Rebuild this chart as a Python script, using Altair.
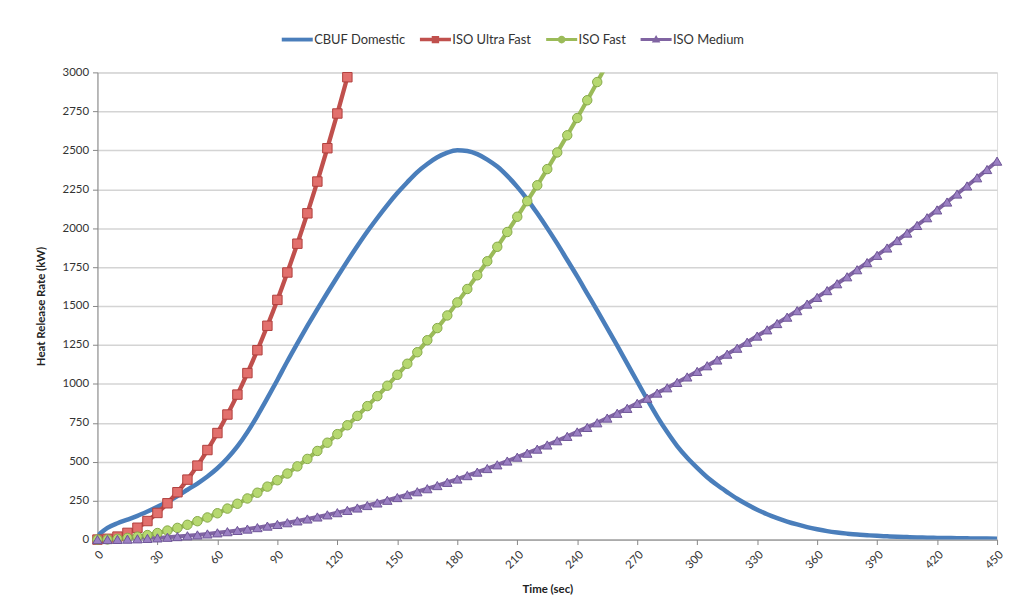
import altair as alt
import pandas as pd

series_names = ["CBUF Domestic", "ISO Ultra Fast", "ISO Fast", "ISO Medium"]
line_colors = ["#4A7EBB", "#C0504D", "#9BBB59", "#8064A2"]
marker_fills = ["#4A7EBB", "#E2706D", "#B6D870", "#9B80C3"]
marker_strokes = ["#4A7EBB", "#B0403D", "#86A84A", "#6E5596"]
line_widths = [4.5, 4, 3, 3]

time_sec = [0, 5, 10, 15, 20, 25, 30, 35, 40, 45, 50, 55, 60, 65, 70, 75, 80, 85, 90, 95,
            100, 105, 110, 115, 120, 125, 130, 135, 140, 145, 150, 155, 160, 165, 170, 175,
            180, 185, 190, 195, 200, 205, 210, 215, 220, 225, 230, 235, 240, 245, 250, 255,
            260, 265, 270, 275, 280, 285, 290, 295, 300, 305, 310, 315, 320, 325, 330, 335,
            340, 345, 350, 355, 360, 365, 370, 375, 380, 385, 390, 395, 400, 405, 410, 415,
            420, 425, 430, 435, 440, 445, 450]

cbuf_domestic = [25, 75, 105, 128, 152, 180, 210, 243, 280, 320, 360, 405, 458, 522, 598,
                 690, 795, 908, 1025, 1145, 1260, 1372, 1480, 1585, 1688, 1788, 1885, 1978,
                 2065, 2148, 2225, 2295, 2360, 2412, 2455, 2485, 2500, 2495, 2475, 2440, 2395,
                 2335, 2265, 2185, 2095, 2000, 1900, 1795, 1690, 1580, 1470, 1358, 1245, 1130,
                 1015, 900, 790, 690, 600, 525, 460, 400, 350, 305, 262, 225, 192, 163, 138,
                 116, 97, 80, 66, 54, 45, 38, 32, 28, 24, 21, 18, 16, 14, 12, 11, 10, 9, 8, 7,
                 7, 6]

iso_ultra_fast = [0, 5, 19, 43, 76, 119, 171, 233, 304, 385, 475, 575, 684, 803, 931, 1069,
                  1216, 1373, 1539, 1715, 1900, 2095, 2299, 2513, 2736, 2969, 3211]

iso_fast = [0, 1, 5, 11, 19, 29, 42, 58, 75, 95, 118, 142, 169, 199, 230, 264, 301, 340,
            381, 424, 470, 518, 569, 622, 677, 734, 794, 857, 921, 988, 1058, 1129, 1203,
            1280, 1358, 1439, 1523, 1609, 1697, 1787, 1880, 1975, 2073, 2173, 2275, 2379,
            2486, 2596, 2707, 2821, 2938, 3056]

iso_medium = [0, 0.3, 1.2, 2.7, 4.8, 7.5, 10.8, 14.7, 19.2, 24.3, 30, 36.3, 43.2, 50.7, 58.8,
              67.5, 76.8, 86.7, 97.2, 108.3, 120, 132.3, 145.2, 158.7, 172.8, 187.5, 202.8,
              218.7, 235.2, 252.3, 270, 288.3, 307.2, 326.7, 346.8, 367.5, 388.8, 410.7,
              433.2, 456.3, 480, 504.3, 529.2, 554.7, 580.8, 607.5, 634.8, 662.7, 691.2,
              720.3, 750, 780.3, 811.2, 842.7, 874.8, 907.5, 940.8, 974.7, 1009.2, 1044.3,
              1080, 1116.3, 1153.2, 1190.7, 1228.8, 1267.5, 1306.8, 1346.7, 1387.2, 1428.3,
              1470, 1512.3, 1555.2, 1598.7, 1642.8, 1687.5, 1732.8, 1778.7, 1825.2, 1872.3,
              1920, 1968.3, 2017.2, 2066.7, 2116.8, 2167.5, 2218.8, 2270.7, 2323.2, 2376.3,
              2430]

x_tick_labels = [0, 30, 60, 90, 120, 150, 180, 210, 240, 270, 300, 330, 360, 390, 420, 450]
y_tick_labels = [0, 250, 500, 750, 1000, 1250, 1500, 1750, 2000, 2250, 2500, 2750, 3000]

marker_shapes = ["circle", "square", "circle", "triangle-up"]
legend_shapes = [
    "M-2.6,-0.32 L2.6,-0.32 L2.6,0.32 L-2.6,0.32 Z",
    "M-2.6,-0.3 L2.6,-0.3 L2.6,0.3 L-2.6,0.3 Z M-0.62,-0.62 L0.62,-0.62 L0.62,0.62 L-0.62,0.62 Z",
    "M-2.6,-0.25 L2.6,-0.25 L2.6,0.25 L-2.6,0.25 Z M0.65,0 A0.65,0.65 0 1,1 -0.65,0 A0.65,0.65 0 1,1 0.65,0 Z",
    "M-2.6,-0.25 L2.6,-0.25 L2.6,0.25 L-2.6,0.25 Z M0,-0.75 L0.72,0.5 L-0.72,0.5 Z",
]

rows = []
for name, vals in zip(series_names, [cbuf_domestic, iso_ultra_fast, iso_fast, iso_medium]):
    for t, v in zip(time_sec, vals):
        rows.append({"series": name, "t": t, "hrr": v})
df = pd.DataFrame(rows)

FONT = "Lato"

x_enc = alt.X(
    "t:Q",
    scale=alt.Scale(domain=[0, 450], nice=False, zero=False),
    axis=alt.Axis(
        values=x_tick_labels, title="Time (sec)", labelAngle=-45, grid=False,
        domainColor="#868686", tickColor="#868686", tickSize=5, labelPadding=4,
        labelFontSize=11.5, labelColor="#333333", labelFont=FONT,
        titleFont=FONT, titleFontSize=11.5, titleFontWeight="bold", titleColor="#222222",
        titlePadding=13, labelFlush=False,
    ),
)
y_enc = alt.Y(
    "hrr:Q",
    scale=alt.Scale(domain=[0, 3000], nice=False),
    axis=alt.Axis(
        values=y_tick_labels, title="Heat Release Rate (kW)", grid=True, format="d",
        gridColor="#D4D4D4", gridWidth=1.5, domainColor="#868686", tickColor="#868686",
        tickSize=5, labelPadding=4, labelFontSize=11.5, labelColor="#333333", labelFont=FONT,
        titleFont=FONT, titleFontSize=11.5, titleFontWeight="bold", titleColor="#222222",
        titlePadding=16, labelFlush=False,
    ),
)

color_scale = alt.Scale(domain=series_names, range=line_colors)

lines = alt.Chart(df).mark_line(clip=True, interpolate="monotone").encode(
    x=x_enc,
    y=y_enc,
    color=alt.Color("series:N", scale=color_scale, legend=None),
    strokeWidth=alt.StrokeWidth("series:N", scale=alt.Scale(domain=series_names, range=line_widths), legend=None),
)

points = alt.Chart(df).transform_filter(
    "datum.series != 'CBUF Domestic' && datum.hrr <= 3000"
).mark_point(filled=True, opacity=1, strokeWidth=1).encode(
    x=x_enc,
    y=y_enc,
    fill=alt.Fill("series:N", scale=alt.Scale(domain=series_names, range=marker_fills), legend=None),
    stroke=alt.Stroke("series:N", scale=alt.Scale(domain=series_names, range=marker_strokes), legend=None),
    shape=alt.Shape("series:N", scale=alt.Scale(domain=series_names, range=marker_shapes), legend=None),
    size=alt.value(90),
)

legend_props = dict(
    orient="none", legendX=194, legendY=-40, direction="horizontal", title=None,
    labelFont=FONT, labelFontSize=13, labelColor="#333333", symbolSize=144,
    columnPadding=11, labelOffset=10, symbolOpacity=1,
)

legend_layer = alt.Chart(df).transform_filter("datum.t < 0").mark_point(filled=True, opacity=1).encode(
    color=alt.Color("series:N", scale=color_scale, legend=alt.Legend(**legend_props)),
    shape=alt.Shape("series:N", scale=alt.Scale(domain=series_names, range=legend_shapes),
                    legend=alt.Legend(**legend_props)),
)

chart = alt.layer(lines, points, legend_layer).resolve_scale(
    color="independent", shape="independent"
).properties(
    width=905, height=470,
    padding={"left": 27, "top": 23, "right": 0, "bottom": 0},
).configure_view(stroke=None).configure(background="white")

chart.save("out.html", embed_options={"renderer": "svg", "actions": False})
